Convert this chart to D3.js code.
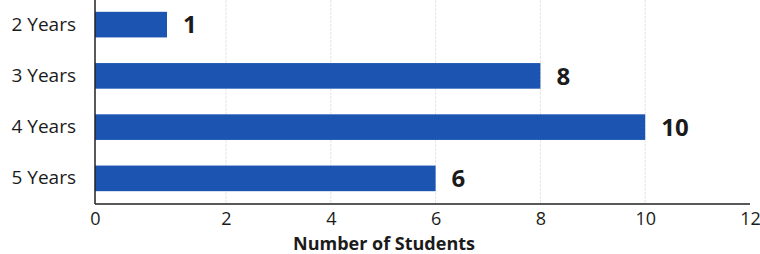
<!DOCTYPE html>
<html>
<head>
<meta charset="utf-8">
<script src="https://cdn.jsdelivr.net/npm/d3@7"></script>
<style>
  html, body { margin: 0; padding: 0; background: #fff; }
  svg text { font-family: 'Open Sans', 'Noto Sans', sans-serif; fill: #1b1b1b; }
  .grid line { stroke: #e6e6e6; stroke-width: 1; stroke-dasharray: 3 1; }
  .axis path, .axis line { stroke: #222; }
</style>
</head>
<body>
<svg id="chart" width="760" height="254"></svg>
<script>
const categories = ['2 Years', '3 Years', '4 Years', '5 Years'];
const students = [1, 8, 10, 6];
const x_ticks = [0, 2, 4, 6, 8, 10, 12];

const svg = d3.select('#chart');

// the source picture is stretched near the origin, so the scale is piecewise
const x = d3.scaleLinear().domain([0, 1, 2, 12]).range([95, 167, 226, 750]);
const y = d3.scaleBand()
  .domain(categories)
  .range([-1, 204])
  .paddingInner(0.5)
  .paddingOuter(0.25);

const data = categories.map((c, i) => ({ c, v: students[i] }));

svg.append('g')
  .attr('class', 'grid')
  .selectAll('line')
  .data(x_ticks.filter(d => d > 0 && d < 12))
  .join('line')
  .attr('x1', d => x(d))
  .attr('x2', d => x(d))
  .attr('y1', 0)
  .attr('y2', 204);

svg.append('g')
  .selectAll('rect')
  .data(data)
  .join('rect')
  .attr('x', x(0))
  .attr('y', d => y(d.c))
  .attr('width', d => x(d.v) - x(0))
  .attr('height', y.bandwidth())
  .attr('fill', '#1c55b1');

svg.append('g')
  .selectAll('text')
  .data(data)
  .join('text')
  .attr('x', d => x(d.v) + 16)
  .attr('y', d => y(d.c) + y.bandwidth() / 2)
  .attr('dy', '0.36em')
  .style('font-size', '24px')
  .style('font-weight', 700)
  .text(d => d.v);

const axis_x = svg.append('g')
  .attr('class', 'axis')
  .attr('transform', 'translate(0,204)')
  .call(d3.axisBottom(x).tickValues(x_ticks).tickFormat(d3.format('d')).tickSize(0).tickPadding(8).tickSizeOuter(0));
axis_x.select('.domain').attr('d', `M${x(0)},0H750`).attr('stroke-width', 1.5);
axis_x.selectAll('text').style('font-size', '18px');

const axis_y = svg.append('g')
  .attr('class', 'axis')
  .attr('transform', `translate(${x(0)},0)`)
  .call(d3.axisLeft(y).tickSize(0).tickPadding(19).tickSizeOuter(0));
axis_y.select('.domain').attr('d', 'M0,0V204').attr('stroke-width', 1.5);
axis_y.selectAll('text').style('font-size', '19px');

svg.append('text')
  .attr('x', 384)
  .attr('y', 250)
  .attr('text-anchor', 'middle')
  .style('font-size', '18px')
  .style('font-weight', 700)
  .text('Number of Students');
</script>
</body>
</html>
